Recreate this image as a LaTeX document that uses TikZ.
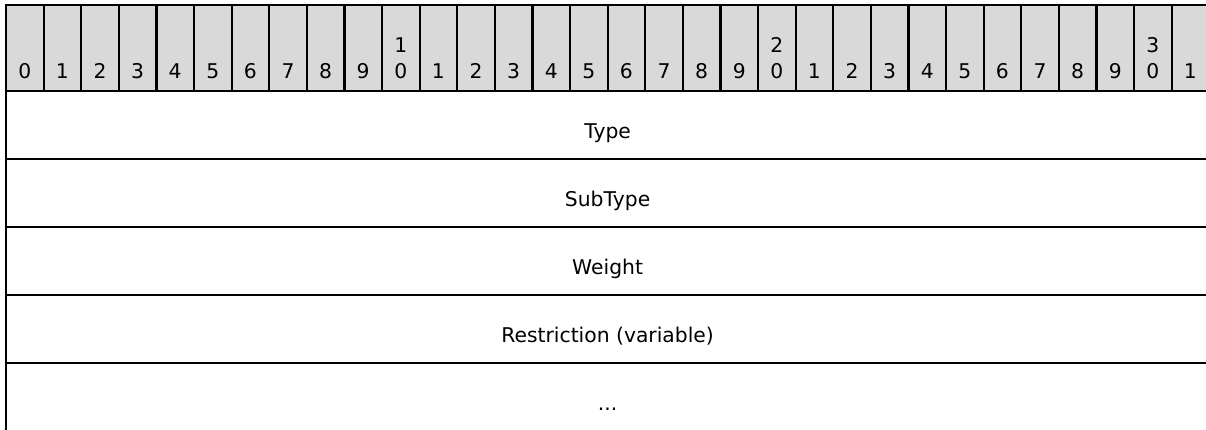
\documentclass[tikz,border=0pt]{standalone}
\usepackage{fontspec}
\setmainfont{DejaVu Sans}
\definecolor{hdrgray}{HTML}{D9D9D9}
\tikzset{
  hcell/.style={draw=black, fill=hdrgray, line width=2.2pt, minimum width=37.6pt, minimum height=86pt, inner sep=0pt},
  rowbox/.style={draw=black, line width=2.2pt, minimum width=1203.2pt, minimum height=68pt, inner sep=0pt},
  lbl/.style={anchor=base, inner sep=0pt, font=\fontsize{20.3}{24}\selectfont}
}
\begin{document}
\begin{tikzpicture}[x=1pt,y=-1pt]
\useasboundingbox (0,0) rectangle (1206,429);
\clip (0,0) rectangle (1206,429);
% header cells
\foreach \i in {0,...,31} {
  \pgfmathsetmacro\cx{6+\i*37.6+18.8}
  \pgfmathtruncatemacro\d{mod(\i,10)}
  \node[hcell] (h\i) at (\cx,48) {};
  \node[lbl] (d\i) at (\cx,78.5) {\d};
}
\foreach \i/\t in {10/1,20/2,30/3} {
  \pgfmathsetmacro\cx{6+\i*37.6+18.8}
  \node[lbl] (t\i) at (\cx,52) {\t};
}
% rows
\node[rowbox] (r1) at (607.6,125) {};
\node[rowbox] (r2) at (607.6,193) {};
\node[rowbox] (r3) at (607.6,261) {};
\node[rowbox] (r4) at (607.6,329) {};
\node[rowbox] (r5) at (607.6,397) {};
\node[lbl] (l1) at (607.6,138) {Type};
\node[lbl] (l2) at (607.6,206) {SubType};
\node[lbl] (l3) at (607.6,274) {Weight};
\node[lbl] (l4) at (607.6,342) {Restriction (variable)};
\node[lbl] (l5) at (607.6,410) {...};
\end{tikzpicture}
\end{document}
